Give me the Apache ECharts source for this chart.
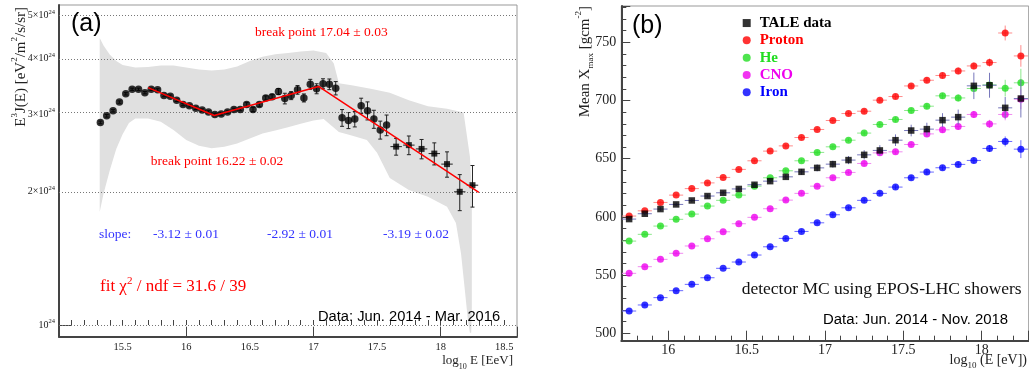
<!DOCTYPE html>
<html>
<head>
<meta charset="utf-8">
<title>TALE spectrum and mean Xmax</title>
<script src="https://cdn.jsdelivr.net/npm/echarts@6/dist/echarts.min.js"></script>
<style>
  html, body { margin: 0; padding: 0; background: #fff; }
  #chart { width: 1029px; height: 373px; }
</style>
</head>
<body>
<div id="chart"></div>
<script>
// ---------- panel (a): E^3 J(E), in units of 1e24 eV^2/m^2/s/sr ----------
const specLogE = [15.325, 15.375, 15.425, 15.475, 15.525, 15.575, 15.625, 15.675, 15.725, 15.775,
  15.825, 15.875, 15.925, 15.975, 16.025, 16.075, 16.125, 16.175, 16.225, 16.275,
  16.325, 16.375, 16.425, 16.475, 16.525, 16.575, 16.625, 16.675, 16.725, 16.775,
  16.825, 16.875, 16.925, 16.975, 17.025, 17.075, 17.125, 17.175, 17.225, 17.275,
  17.325, 17.375, 17.425, 17.475, 17.525, 17.575,
  17.65, 17.75, 17.85, 17.95, 18.05, 18.15, 18.25]
const specFlux = [2.87, 2.97, 3.05, 3.19, 3.33, 3.41, 3.41, 3.35, 3.41, 3.40,
  3.30, 3.29, 3.22, 3.15, 3.13, 3.09, 3.06, 3.03, 2.99, 3.00,
  3.03, 3.07, 3.07, 3.15, 3.07, 3.15, 3.26, 3.28, 3.37, 3.25,
  3.30, 3.40, 3.26, 3.50, 3.42, 3.51, 3.50, 3.43, 2.94, 2.90,
  2.92, 3.13, 3.05, 2.92, 2.76, 2.83,
  2.53, 2.55, 2.50, 2.44, 2.31, 2.00, 2.07]
const specErr = [0.02, 0.02, 0.02, 0.02, 0.02, 0.02, 0.02, 0.02, 0.02, 0.02,
  0.02, 0.02, 0.02, 0.02, 0.02, 0.02, 0.02, 0.02, 0.02, 0.02,
  0.02, 0.02, 0.02, 0.035, 0.035, 0.035, 0.035, 0.035, 0.053, 0.090,
  0.069, 0.077, 0.068, 0.091, 0.089, 0.091, 0.097, 0.119, 0.128, 0.121,
  0.117, 0.125, 0.143, 0.137, 0.129, 0.152,
  0.110, 0.124, 0.126, 0.140, 0.152, 0.187, 0.223]
const wideBinHalf = 0.045   // half width drawn for the 0.1-decade bins
const fitLogE = [15.70, 16.22, 17.04, 18.30]
const fitFlux = [3.44, 2.975, 3.46, 1.995]
const bandUpper = [[15.32, 4.45], [15.35, 4.28], [15.40, 4.08], [15.45, 3.95], [15.50, 3.87], [15.60, 3.82],
  [15.70, 3.83], [15.80, 3.86], [15.90, 3.86], [16.00, 3.82], [16.10, 3.78], [16.20, 3.76], [16.30, 3.78],
  [16.40, 3.84], [16.50, 3.95], [16.60, 4.04], [16.70, 4.09], [16.80, 4.12], [16.90, 4.15], [17.00, 4.17],
  [17.10, 4.12], [17.16, 3.90], [17.20, 3.52], [17.30, 3.48], [17.45, 3.42], [17.60, 3.35], [17.75, 3.22],
  [17.90, 3.12], [18.05, 3.08], [18.18, 3.02], [18.23, 2.40], [18.245, 2.0], [18.245, 1.5], [18.245, 1.1],
  [18.24, 0.96]]
const bandLower = [[15.32, 1.80], [15.35, 1.98], [15.40, 2.24], [15.45, 2.50], [15.50, 2.70], [15.55, 2.86],
  [15.60, 2.93], [15.70, 2.93], [15.80, 2.88], [15.90, 2.76], [16.00, 2.62], [16.10, 2.54], [16.20, 2.51],
  [16.30, 2.53], [16.40, 2.57], [16.50, 2.64], [16.60, 2.71], [16.70, 2.75], [16.80, 2.80], [16.90, 2.85],
  [17.00, 2.90], [17.08, 2.92], [17.20, 2.73], [17.30, 2.68], [17.42, 2.62], [17.50, 2.45], [17.60, 2.15],
  [17.75, 2.02], [17.90, 1.95], [18.05, 1.85], [18.12, 1.70], [18.16, 1.45], [18.19, 1.20], [18.215, 1.02],
  [18.23, 0.96]]
const aYTicks = [1, 2, 3, 4, 5]
const aXLabels = [15.5, 16, 16.5, 17, 17.5, 18, 18.5]

// ---------- panel (b): mean Xmax [g/cm^2] ----------
const xmaxLogE = [15.75, 15.85, 15.95, 16.05, 16.15, 16.25, 16.35, 16.45, 16.55, 16.65, 16.75, 16.85, 16.95,
  17.05, 17.15, 17.25, 17.35, 17.45, 17.55, 17.65, 17.75, 17.85, 17.95, 18.05, 18.15, 18.25]
const taleXmax = [598.1, 602.7, 606.7, 610.7, 614.1, 617.9, 620.7, 624.0, 627.6, 630.7, 634.4, 638.7, 642.1,
  645.3, 648.8, 653.3, 657.1, 665.9, 674.2, 675.4, 683.1, 685.7, 712.6, 713.1, 693.7, 701.7]
const taleErr = [1.5, 1.5, 1.5, 1.5, 1.5, 1.5, 1.5, 1.5, 2, 2, 2, 2.5, 3, 3, 3.5, 4, 4.5, 5, 5, 5.5, 6, 6.5,
  11.4, 10.7, 9.3, 16.3]
const protonXmax = [600.7, 605.2, 612.4, 618.7, 624.3, 629.2, 633.9, 640.8, 648.2, 656.5, 661.0, 668.2, 675.1,
  682.8, 688.8, 690.8, 700.3, 703.4, 712.5, 717.4, 721.5, 725.4, 729.7, 732.6, 758.0, 738.3]
const protonErr = [1, 1, 1, 1, 1, 1, 1, 1, 1, 1, 1.5, 1.5, 1.5, 1.5, 1.5, 2, 2, 2, 2, 2.5, 2.5, 3, 3, 3.5, 6.4, 9.3]
const heXmax = [579.2, 585.0, 592.1, 597.9, 602.4, 609.3, 614.2, 618.7, 626.4, 633.6, 639.6, 648.2, 655.4,
  660.2, 665.9, 672.0, 679.4, 683.7, 691.4, 695.1, 704.0, 702.2, 710.3, 713.4, 710.6, 715.2]
const heErr = [1, 1, 1, 1, 1, 1, 1, 1, 1, 1, 1.5, 1.5, 1.5, 1.5, 1.5, 2, 2, 2, 2, 2.5, 2.5, 3, 3, 3.5, 7.2, 12]
const cnoXmax = [551.5, 557.2, 563.5, 568.7, 575.0, 581.2, 587.2, 594.1, 599.6, 607.0, 614.4, 620.2, 626.4,
  633.6, 638.2, 645.9, 655.0, 655.9, 662.2, 671.3, 674.8, 677.7, 688.0, 679.9, 688.0, 701.1]
const cnoErr = [1, 1, 1, 1, 1, 1, 1, 1, 1, 1, 1.5, 1.5, 1.5, 1.5, 1.5, 2, 2, 2, 2, 2.5, 2.5, 3, 3, 3.5, 5, 8.6]
const ironXmax = [519.1, 524.3, 530.6, 536.6, 542.0, 547.7, 555.8, 561.2, 567.2, 574.3, 581.5, 587.5, 594.9,
  601.8, 607.8, 614.2, 620.2, 625.6, 633.6, 638.5, 642.2, 645.1, 648.5, 658.8, 664.8, 658.2]
const ironErr = [1, 1, 1, 1, 1, 1, 1, 1, 1, 1, 1.5, 1.5, 1.5, 1.5, 1.5, 2, 2, 2, 2, 2.5, 2, 2.5, 2.5, 3, 4.3, 7.7]
const xmaxBinHalf = 0.045
const bXLabels = [16, 16.5, 17, 17.5, 18]
const bYLabels = [500, 550, 600, 650, 700, 750]

const SERIF = "'Liberation Serif', 'DejaVu Serif', serif"
const SANS = "'Liberation Sans', 'DejaVu Sans', sans-serif"

const lg = v => Math.log10(v)
const aMinorX = []
for (let v = 151; v <= 185; v++) aMinorX.push(v / 10)
const bMinorX = []
for (let v = 158; v <= 182; v++) bMinorX.push(v / 10)
const bMinorY = []
for (let v = 500; v <= 780; v += 10) bMinorY.push(v)

// error bars: data item = [x, lo, hi, xHalf, y]
function errorBars (color, cap) {
  return function (params, api) {
    const x = api.value(0)
    const lo = api.value(1)
    const hi = api.value(2)
    const ex = api.value(3)
    const y = api.value(4)
    const st = { stroke: color, lineWidth: 1 }
    const kids = []
    const a = api.coord([x, lo])
    const b = api.coord([x, hi])
    kids.push({ type: 'line', shape: { x1: a[0], y1: a[1], x2: b[0], y2: b[1] }, style: st })
    if (cap) {
      kids.push({ type: 'line', shape: { x1: a[0] - cap, y1: a[1], x2: a[0] + cap, y2: a[1] }, style: st })
      kids.push({ type: 'line', shape: { x1: b[0] - cap, y1: b[1], x2: b[0] + cap, y2: b[1] }, style: st })
    }
    if (ex > 0) {
      const l = api.coord([x - ex, y])
      const r = api.coord([x + ex, y])
      kids.push({ type: 'line', shape: { x1: l[0], y1: l[1], x2: r[0], y2: r[1] }, style: st })
    }
    return { type: 'group', children: kids }
  }
}

const specPts = specLogE.map((x, i) => [x, lg(specFlux[i])])
const specBars = specLogE.map((x, i) => [x, lg(specFlux[i] - specErr[i]), lg(specFlux[i] + specErr[i]),
  x > 17.6 ? wideBinHalf : 0, lg(specFlux[i])])

const comps = [
  { name: 'Proton', ys: protonXmax, es: protonErr, color: '#ff0000', bar: '#ff8c8c' },
  { name: 'He', ys: heXmax, es: heErr, color: '#22dd22', bar: '#8ce88c' },
  { name: 'CNO', ys: cnoXmax, es: cnoErr, color: '#ee00ee', bar: '#f08cf0' },
  { name: 'Iron', ys: ironXmax, es: ironErr, color: '#0000ff', bar: '#6a6aff' }
]

const series = [
  {
    type: 'custom', name: 'band', xAxisIndex: 0, yAxisIndex: 0, z: 1, silent: true,
    data: [0],
    renderItem (params, api) {
      const pts = bandUpper.concat(bandLower.slice().reverse()).map(p => api.coord([p[0], lg(p[1])]))
      return { type: 'polygon', shape: { points: pts }, style: { fill: '#e0e0e0', stroke: null } }
    }
  },
  {
    type: 'line', name: 'grid', xAxisIndex: 0, yAxisIndex: 0, z: 2, data: [], silent: true,
    markLine: {
      silent: true, symbol: 'none', label: { show: false },
      lineStyle: { type: [1, 2], color: '#777', width: 1 },
      data: aYTicks.map(m => ({ yAxis: lg(m) }))
    }
  },
  {
    type: 'custom', name: 'specErr', xAxisIndex: 0, yAxisIndex: 0, z: 4, silent: true,
    renderItem: errorBars('#222', 2), data: specBars
  },
  {
    type: 'scatter', name: 'spec', xAxisIndex: 0, yAxisIndex: 0, z: 5, symbol: 'circle', symbolSize: 7.5,
    itemStyle: { color: '#000' }, data: specPts.filter(p => p[0] < 17.6)
  },
  {
    type: 'scatter', name: 'specWide', xAxisIndex: 0, yAxisIndex: 0, z: 5, symbol: 'rect', symbolSize: 6,
    itemStyle: { color: '#000' }, data: specPts.filter(p => p[0] > 17.6)
  },
  {
    type: 'line', name: 'fit', xAxisIndex: 0, yAxisIndex: 0, z: 6, symbol: 'none',
    lineStyle: { color: '#ff0000', width: 1.5 },
    data: fitLogE.map((x, i) => [x, lg(fitFlux[i])])
  }
]

comps.forEach(c => {
  series.push({
    type: 'custom', name: c.name + ' err', xAxisIndex: 2, yAxisIndex: 1, z: 2, silent: true,
    renderItem: errorBars(c.bar, 0),
    data: xmaxLogE.map((x, i) => [x, c.ys[i] - c.es[i], c.ys[i] + c.es[i], xmaxBinHalf, c.ys[i]])
  })
  series.push({
    type: 'scatter', name: c.name, xAxisIndex: 2, yAxisIndex: 1, z: 3, symbol: 'circle', symbolSize: 7,
    itemStyle: { color: c.color }, data: xmaxLogE.map((x, i) => [x, c.ys[i]])
  })
})
series.push({
  type: 'custom', name: 'TALE err', xAxisIndex: 2, yAxisIndex: 1, z: 4, silent: true,
  renderItem: errorBars('#7777bb', 0),
  data: xmaxLogE.map((x, i) => [x, taleXmax[i] - taleErr[i], taleXmax[i] + taleErr[i], xmaxBinHalf, taleXmax[i]])
})
series.push({
  type: 'scatter', name: 'TALE data', xAxisIndex: 2, yAxisIndex: 1, z: 5, symbol: 'rect', symbolSize: 6.5,
  itemStyle: { color: '#000' }, data: xmaxLogE.map((x, i) => [x, taleXmax[i]])
})

const axisLine = { show: true, onZero: false, lineStyle: { color: '#444', width: 2 } }
const tickStyle = { color: '#444', width: 1 }

// an extra axis that only draws a set of short inside ticks
function tickAxis (grid, min, max, pos, values, len) {
  return {
    type: 'value', gridIndex: grid, min, max, position: pos, offset: 0,
    axisLine: { show: false },
    axisTick: { show: true, inside: true, length: len, customValues: values, lineStyle: tickStyle },
    axisLabel: { show: false }, splitLine: { show: false }
  }
}

function txt (x, y, text, o) {
  o = o || {}
  return {
    type: 'text', x, y, rotation: o.rot || 0, z: 100, silent: true,
    style: {
      text, fill: o.color || '#000', fontSize: o.size || 13, fontFamily: o.family || SERIF,
      fontWeight: o.weight || 'normal', textAlign: o.align || 'left', align: o.align || 'left',
      textVerticalAlign: 'middle', verticalAlign: 'middle', rich: o.rich
    }
  }
}
function richSet (size, color, family) {
  return {
    a: { fontSize: size, fontFamily: family || SERIF, fill: color, color, lineHeight: size + 6, verticalAlign: 'middle' },
    p: { fontSize: Math.round(size * 0.62), fontFamily: family || SERIF, fill: color, color, lineHeight: Math.round(size * 0.62), verticalAlign: 'top' },
    d: { fontSize: Math.round(size * 0.62), fontFamily: family || SERIF, fill: color, color, lineHeight: Math.round(size * 0.62), verticalAlign: 'bottom' }
  }
}

const option = {
  animation: false,
  backgroundColor: '#fff',
  grid: [
    { left: 59, top: 5, width: 458, height: 331.7, show: true, borderColor: '#999', borderWidth: 1 },
    { left: 621.3, top: 6, width: 407.4, height: 334.7, show: true, borderColor: '#999', borderWidth: 1 }
  ],
  xAxis: [
    {
      type: 'value', gridIndex: 0, min: 15, max: 18.6, position: 'bottom', axisLine,
      axisTick: { inside: true, length: 10, lineStyle: tickStyle },
      axisLabel: { customValues: aXLabels, margin: 5, fontFamily: SERIF, fontSize: 10.5, color: '#222', formatter: v => String(v) },
      splitLine: { show: false }
    },
    tickAxis(0, 15, 18.6, 'bottom', aMinorX, 5),
    {
      type: 'value', gridIndex: 1, min: 15.7, max: 18.3, position: 'bottom', axisLine,
      axisTick: { inside: true, length: 10, lineStyle: tickStyle },
      axisLabel: { customValues: bXLabels, margin: 3, fontFamily: SERIF, fontSize: 14, color: '#222', formatter: v => String(v) },
      splitLine: { show: false }
    },
    tickAxis(1, 15.7, 18.3, 'bottom', bMinorX, 5)
  ],
  yAxis: [
    {
      type: 'value', gridIndex: 0, min: -0.02644, max: 0.7232, position: 'left', axisLine,
      axisTick: { show: false },
      axisLabel: {
        customValues: aYTicks.map(lg), margin: 4, color: '#222',
        formatter: v => {
          const m = Math.round(Math.pow(10, v))
          return m === 1 ? '{a|10}{p|24}' : '{a|' + m + '×10}{p|24}'
        },
        rich: {
          a: { fontSize: 10, fontFamily: SERIF, color: '#222', lineHeight: 14, verticalAlign: 'middle' },
          p: { fontSize: 6.5, fontFamily: SERIF, color: '#222', lineHeight: 7, verticalAlign: 'top' }
        }
      },
      splitLine: { show: false }
    },
    {
      type: 'value', gridIndex: 1, min: 493.6, max: 781.2, position: 'left', axisLine,
      axisTick: { inside: true, length: 9, lineStyle: tickStyle },
      axisLabel: { customValues: bYLabels, margin: 5, fontFamily: SERIF, fontSize: 14, color: '#222' },
      splitLine: { show: false }
    },
    tickAxis(1, 493.6, 781.2, 'left', bMinorY, 5),
    tickAxis(0, -0.02644, 0.7232, 'left', [0], 12)
  ],
  legend: {
    orient: 'vertical', left: 737.7, top: 9.4, itemWidth: 8, itemHeight: 8, itemGap: 0,
    selectedMode: false,
    textStyle: { fontFamily: SERIF, fontWeight: 'bold', fontSize: 15, lineHeight: 17.3, padding: [0, 0, 0, 4] },
    data: [
      { name: 'TALE data', textStyle: { color: '#000' } },
      { name: 'Proton', textStyle: { color: '#ff0000' } },
      { name: 'He', textStyle: { color: '#22dd22' } },
      { name: 'CNO', textStyle: { color: '#ee00ee' } },
      { name: 'Iron', textStyle: { color: '#0000ff' } }
    ]
  },
  graphic: [
    txt(71, 24, '(a)', { family: SANS, size: 25 }),
    txt(255, 32, 'break point 17.04 ± 0.03', { color: '#ff0000', size: 13.5 }),
    txt(150.7, 161.7, 'break point 16.22 ± 0.02', { color: '#ff0000', size: 13.5 }),
    txt(99, 234, 'slope:', { color: '#3333ff', size: 13.5 }),
    txt(153, 234, '-3.12 ± 0.01', { color: '#3333ff', size: 13.5 }),
    txt(267, 234, '-2.92 ± 0.01', { color: '#3333ff', size: 13.5 }),
    txt(383, 234, '-3.19 ± 0.02', { color: '#3333ff', size: 13.5 }),
    txt(100, 287, '{a|fit χ}{p|2}{a| / ndf = 31.6 / 39}', { rich: richSet(17, '#ff0000') }),
    txt(318, 316.7, 'Data: Jun. 2014 - Mar. 2016', { family: SANS, size: 14.7 }),
    txt(513, 361, '{a|log}{d|10}{a| E [EeV]}', { align: 'right', rich: richSet(13, '#222') }),
    txt(21, 7, '{a|E}{p|3}{a|J(E) [eV}{p|2}{a|/m}{p|2}{a|/s/sr]}', { align: 'right', rot: Math.PI / 2, rich: richSet(15, '#222') }),

    txt(632, 26, '(b)', { family: SANS, size: 25 }),
    txt(741.7, 289, 'detector MC using EPOS-LHC showers', { size: 17.5, color: '#111' }),
    txt(823, 320, 'Data: Jun. 2014 - Nov. 2018', { family: SANS, size: 14.9 }),
    txt(1027, 360, '{a|log}{d|10}{a| (E [eV])}', { align: 'right', rich: richSet(14, '#222') }),
    txt(585, 6, '{a|Mean X}{d|max}{a| [gcm}{p|-2}{a|]}', { align: 'right', rot: Math.PI / 2, rich: richSet(15, '#222') })
  ],
  series
}

const chart = echarts.init(document.getElementById('chart'), null, { renderer: 'canvas' })
chart.setOption(option)
</script>
</body>
</html>
